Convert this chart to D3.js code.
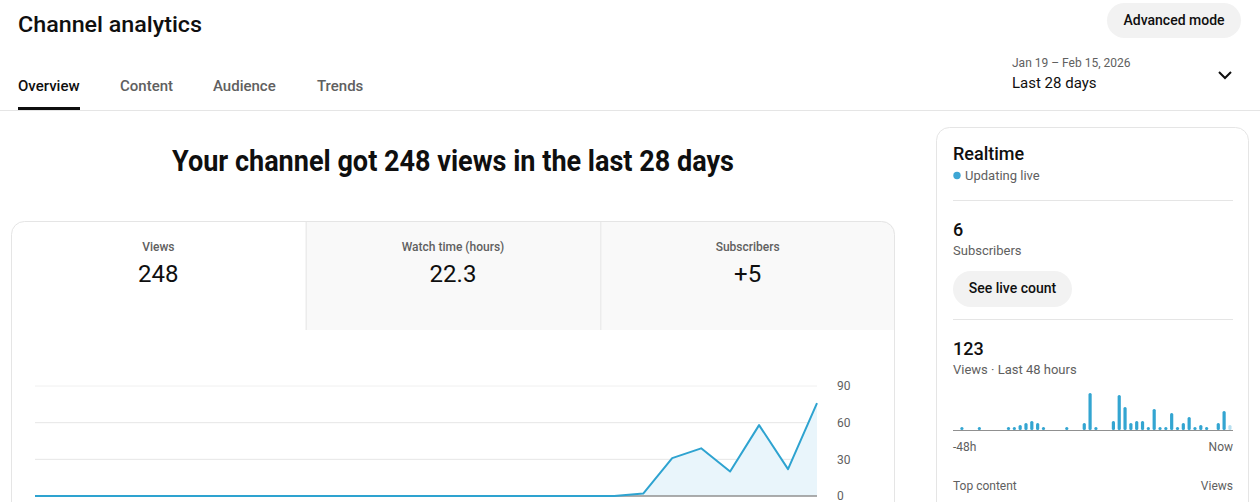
<!DOCTYPE html>
<html>
<head>
<meta charset="utf-8">
<script src="https://cdn.jsdelivr.net/npm/d3@7"></script>
<style>
  body { margin: 0; background: #fff; }
  svg text { font-family: Roboto, "Noto Sans", sans-serif; }
</style>
</head>
<body>
<div id="page"></div>
<script>
// daily views, Jan 19 - Feb 15 2026
var days = ["Jan 19","Jan 20","Jan 21","Jan 22","Jan 23","Jan 24","Jan 25","Jan 26","Jan 27","Jan 28",
            "Jan 29","Jan 30","Jan 31","Feb 1","Feb 2","Feb 3","Feb 4","Feb 5","Feb 6","Feb 7",
            "Feb 8","Feb 9","Feb 10","Feb 11","Feb 12","Feb 13","Feb 14","Feb 15"];
var dailyViews = [0,0,0,0,0,0,0,0,0,0, 0,0,0,0,0,0,0,0,0,0, 0,2,31,39,20,58,22,76];
var yTicks = [0, 30, 60, 90];

// realtime views per hour, last 48 hours (last one = current hour)
var hourlyViews = [0,1,0,0,1,0,0,0,0,1, 1,2,3,4,3,1,0,0,0,1, 0,0,3,18,1,0,0,4,17,11,
                   3,4,4,1,10,1,1,8,1,3, 6,1,2,1,0,3,9,2];

var metricLabels = ["Views", "Watch time (hours)", "Subscribers"];
var metricValues = ["248", "22.3", "+5"];
var navTabs = ["Overview", "Content", "Audience", "Trends"];

var dark = "#0f0f0f", grey = "#606060", border = "#e5e5e5", blue = "#2ea3d0";

var svg = d3.select("#page").append("svg")
    .attr("width", 1260)
    .attr("height", 502);

// ---- header ----
svg.append("text").attr("x", 18).attr("y", 32)
    .attr("font-size", 22).attr("font-weight", 500).attr("fill", dark)
    .attr("textLength", 184).attr("lengthAdjust", "spacingAndGlyphs")
    .text("Channel analytics");

var tabX = [18, 120, 213, 317];
svg.selectAll("text.nav")
    .data(navTabs)
    .enter().append("text")
    .attr("class", "nav")
    .attr("x", function (d, i) { return tabX[i]; })
    .attr("y", 91)
    .attr("font-size", 15).attr("font-weight", 500)
    .attr("fill", function (d, i) { return i === 0 ? dark : grey; })
    .text(function (d) { return d; });

svg.append("line").attr("x1", 0).attr("x2", 1260).attr("y1", 110.5).attr("y2", 110.5)
    .attr("stroke", border);
svg.append("rect").attr("x", 18).attr("y", 107).attr("width", 62).attr("height", 3)
    .attr("fill", dark);

// advanced mode button
svg.append("rect").attr("x", 1107).attr("y", 3).attr("width", 134).attr("height", 35)
    .attr("rx", 17.5).attr("fill", "#f2f2f2");
svg.append("text").attr("x", 1174).attr("y", 25).attr("text-anchor", "middle")
    .attr("font-size", 14).attr("font-weight", 500).attr("fill", dark)
    .text("Advanced mode");

// date range
svg.append("text").attr("x", 1012).attr("y", 67)
    .attr("font-size", 12).attr("fill", grey).text("Jan 19 \u2013 Feb 15, 2026");
svg.append("text").attr("x", 1012).attr("y", 88)
    .attr("font-size", 15).attr("fill", dark).text("Last 28 days");
svg.append("path").attr("d", "M1219,72L1225,78L1231,72")
    .attr("fill", "none").attr("stroke", dark).attr("stroke-width", 2);

// headline
svg.append("text").attr("x", 453).attr("y", 171).attr("text-anchor", "middle")
    .attr("font-size", 29).attr("font-weight", 700).attr("fill", dark)
    .attr("textLength", 562).attr("lengthAdjust", "spacingAndGlyphs")
    .text("Your channel got 248 views in the last 28 days");

// ---- main chart card ----
svg.append("clipPath").attr("id", "cardClip")
    .append("rect").attr("x", 11).attr("y", 221).attr("width", 884).attr("height", 400).attr("rx", 13);

svg.append("rect").attr("x", 11).attr("y", 221).attr("width", 884).attr("height", 400)
    .attr("rx", 13).attr("fill", "#fff");

var tabW = 884 / 3;
var tabs = svg.append("g").attr("clip-path", "url(#cardClip)");
tabs.selectAll("rect")
    .data(metricLabels)
    .enter().append("rect")
    .attr("x", function (d, i) { return 11 + i * tabW; })
    .attr("y", 221)
    .attr("width", tabW)
    .attr("height", 109)
    .attr("fill", function (d, i) { return i === 0 ? "#fff" : "#f9f9f9"; });
tabs.selectAll("line")
    .data([1, 2])
    .enter().append("line")
    .attr("x1", function (d) { return 11 + d * tabW + 0.5; })
    .attr("x2", function (d) { return 11 + d * tabW + 0.5; })
    .attr("y1", 221).attr("y2", 330)
    .attr("stroke", border);

svg.append("rect").attr("x", 11.5).attr("y", 221.5).attr("width", 883).attr("height", 400)
    .attr("rx", 13).attr("fill", "none").attr("stroke", border);

svg.selectAll("text.mlabel")
    .data(metricLabels)
    .enter().append("text")
    .attr("class", "mlabel")
    .attr("x", function (d, i) { return 11 + (i + 0.5) * tabW; })
    .attr("y", 251)
    .attr("text-anchor", "middle")
    .attr("font-size", 12).attr("font-weight", 500).attr("fill", grey)
    .text(function (d) { return d; });
svg.selectAll("text.mvalue")
    .data(metricValues)
    .enter().append("text")
    .attr("class", "mvalue")
    .attr("x", function (d, i) { return 11 + (i + 0.5) * tabW; })
    .attr("y", 282)
    .attr("text-anchor", "middle")
    .attr("font-size", 24).attr("fill", dark)
    .text(function (d) { return d; });

// line chart
var x = d3.scalePoint()
    .domain(days)
    .range([35, 817]);
var y = d3.scaleLinear()
    .domain([0, 90])
    .range([496, 386]);

svg.append("g")
    .selectAll("line")
    .data(yTicks.slice(1))
    .enter().append("line")
    .attr("x1", 35).attr("x2", 817)
    .attr("y1", function (d) { return y(d); })
    .attr("y2", function (d) { return y(d); })
    .attr("stroke", function (d) { return d === 90 ? "#f0f0f0" : "#e6e6e6"; });

var yAxis = svg.append("g")
    .attr("transform", "translate(817,0)")
    .call(d3.axisRight(y).tickValues(yTicks).tickSize(0).tickPadding(20));
yAxis.select(".domain").remove();
yAxis.selectAll("text")
    .attr("font-family", "Roboto, sans-serif")
    .attr("font-size", 12).attr("fill", grey);

var area = d3.area()
    .x(function (d, i) { return x(days[i]); })
    .y0(y(0))
    .y1(function (d) { return y(d); });
svg.append("path").datum(dailyViews)
    .attr("d", area)
    .attr("fill", "#e9f5fb");

svg.append("line").attr("x1", 35).attr("x2", 817).attr("y1", y(0)).attr("y2", y(0))
    .attr("stroke", "#909090").attr("stroke-width", 1.5);

var line = d3.line()
    .x(function (d, i) { return x(days[i]); })
    .y(function (d) { return y(d); });
svg.append("path").datum(dailyViews)
    .attr("d", line)
    .attr("fill", "none")
    .attr("stroke", blue)
    .attr("stroke-width", 2)
    .attr("stroke-linejoin", "round");

// ---- realtime card ----
svg.append("rect").attr("x", 936.5).attr("y", 127.5).attr("width", 312).attr("height", 420)
    .attr("rx", 13).attr("fill", "#fff").attr("stroke", border);

svg.append("text").attr("x", 953).attr("y", 160)
    .attr("font-size", 18).attr("font-weight", 500).attr("fill", dark).text("Realtime");
svg.append("circle").attr("cx", 957).attr("cy", 175.5).attr("r", 3.7).attr("fill", "#3ea6d4");
svg.append("text").attr("x", 965).attr("y", 180)
    .attr("font-size", 13).attr("fill", grey).text("Updating live");

svg.selectAll("line.sep")
    .data([200.5, 319.5])
    .enter().append("line")
    .attr("class", "sep")
    .attr("x1", 953).attr("x2", 1233)
    .attr("y1", function (d) { return d; })
    .attr("y2", function (d) { return d; })
    .attr("stroke", border);

svg.append("text").attr("x", 953).attr("y", 236)
    .attr("font-size", 18).attr("font-weight", 500).attr("fill", dark).text("6");
svg.append("text").attr("x", 953).attr("y", 255)
    .attr("font-size", 13).attr("fill", grey).text("Subscribers");

svg.append("rect").attr("x", 953).attr("y", 271).attr("width", 119).attr("height", 36)
    .attr("rx", 18).attr("fill", "#f2f2f2");
svg.append("text").attr("x", 1012.5).attr("y", 293).attr("text-anchor", "middle")
    .attr("font-size", 14).attr("font-weight", 500).attr("fill", dark).text("See live count");

svg.append("text").attr("x", 953).attr("y", 355)
    .attr("font-size", 18).attr("font-weight", 500).attr("fill", dark).text("123");
svg.append("text").attr("x", 953).attr("y", 374)
    .attr("font-size", 13).attr("fill", grey).text("Views \u00b7 Last 48 hours");

// hourly bars
var hx = d3.scaleBand()
    .domain(d3.range(hourlyViews.length))
    .range([953, 1233])
    .paddingInner(0.45)
    .paddingOuter(0.25);
var hy = d3.scaleLinear()
    .domain([0, 18])
    .range([430, 394]);

var hours = hourlyViews.map(function (v, i) { return { hour: i, views: v }; })
    .filter(function (d) { return d.views > 0; });

svg.append("g")
    .selectAll("rect")
    .data(hours)
    .enter().append("rect")
    .attr("x", function (d) { return hx(d.hour); })
    .attr("y", function (d) { return hy(d.views) - 1; })
    .attr("width", hx.bandwidth())
    .attr("height", function (d) { return hy(0) - hy(d.views) + 1; })
    .attr("rx", 1.5)
    .attr("fill", function (d) { return d.hour === hourlyViews.length - 1 ? "#b8e0f0" : "#33a5d1"; });

svg.append("line").attr("x1", 953).attr("x2", 1233).attr("y1", 430.5).attr("y2", 430.5)
    .attr("stroke", "#909090");

svg.append("text").attr("x", 953).attr("y", 451)
    .attr("font-size", 12).attr("fill", grey).text("-48h");
svg.append("text").attr("x", 1233).attr("y", 451).attr("text-anchor", "end")
    .attr("font-size", 12).attr("fill", grey).text("Now");
svg.append("text").attr("x", 953).attr("y", 490)
    .attr("font-size", 12).attr("fill", grey).text("Top content");
svg.append("text").attr("x", 1233).attr("y", 490).attr("text-anchor", "end")
    .attr("font-size", 12).attr("fill", grey).text("Views");
</script>
</body>
</html>
